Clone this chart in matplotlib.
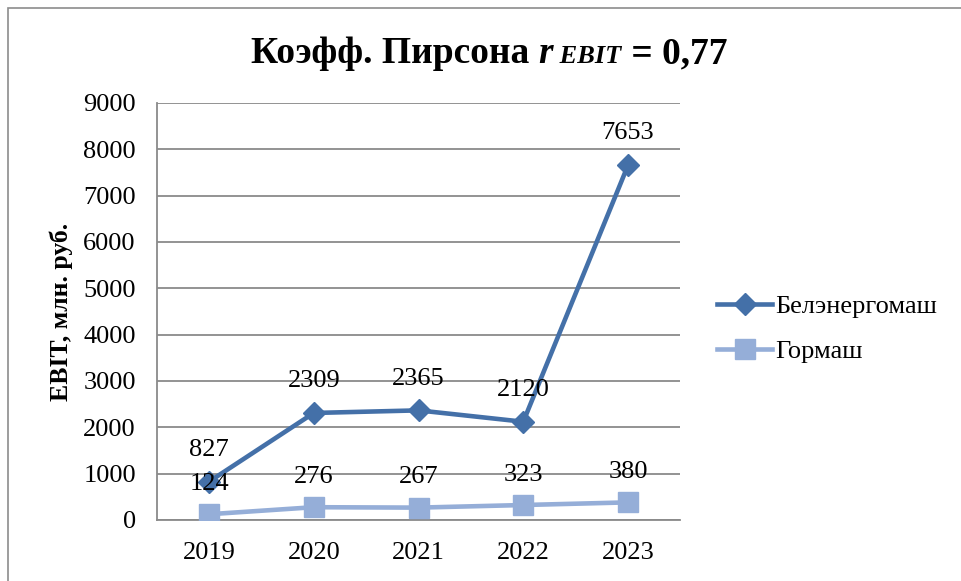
import matplotlib.pyplot as plt
from matplotlib.patches import Rectangle

years = ['2019', '2020', '2021', '2022', '2023']
belenergomash = [827, 2309, 2365, 2120, 7653]
gormash = [124, 276, 267, 323, 380]

plt.rcParams['font.family'] = ['Liberation Serif', 'DejaVu Serif']

fig = plt.figure(figsize=(9.61, 5.81), dpi=100)
ax = fig.add_axes([0.163, 0.105, 0.545, 0.718])

# outer chart frame
fig.patches.append(Rectangle((8 / 961, -0.1), 1.2, (581 - 8) / 581 + 0.1,
                             transform=fig.transFigure, fill=False,
                             edgecolor='#8c8c8c', linewidth=1.2))

x = list(range(len(years)))
c1 = '#4470a8'
c2 = '#95aed8'
ax.plot(x, belenergomash, color=c1, lw=3.3, marker='D', ms=11, label='Белэнергомаш', zorder=3)
ax.plot(x, gormash, color=c2, lw=3.3, marker='s', ms=14, label='Гормаш', zorder=3)

for xi, v in zip(x, belenergomash):
    ax.annotate(str(v), (xi, v), xytext=(0, 15), textcoords='offset points',
                ha='center', va='bottom', fontsize=19)
for xi, v in zip(x, gormash):
    ax.annotate(str(v), (xi, v), xytext=(0, 14), textcoords='offset points',
                ha='center', va='bottom', fontsize=19)

ax.set_xlim(-0.5, len(years) - 0.5)
ax.set_ylim(0, 9000)
ax.set_yticks(range(0, 9001, 1000))
ax.set_xticks(x)
ax.set_xticklabels(years)
ax.tick_params(axis='both', labelsize=19, length=0)
ax.tick_params(axis='y', pad=15)
ax.tick_params(axis='x', pad=16)
ax.grid(axis='y', color='#8a8a8a', lw=1.3)
ax.set_axisbelow(True)
for s in ['top', 'right']:
    ax.spines[s].set_visible(False)
for s in ['left', 'bottom']:
    ax.spines[s].set_color('#8a8a8a')
    ax.spines[s].set_linewidth(1.3)

fig.text(61 / 961, 1 - 312 / 581, 'EBIT, млн. руб.', fontsize=18.5, fontweight='bold',
         rotation=90, ha='center', va='center')

ax.legend(loc='center left', bbox_to_anchor=(717 / 961, 1 - 329 / 581),
          bbox_transform=fig.transFigure, frameon=False, borderpad=0, borderaxespad=0,
          fontsize=19, handlelength=2.1, handletextpad=0.1, labelspacing=0.8)

# title built from pieces with different styles
pieces = [('Коэфф. Пирсона ', 'normal', 27),
          ('r', 'italic', 27),
          (' EBIT', 'italic', 19),
          (' = 0,77', 'normal', 27)]
texts = [fig.text(0, 0, s, fontsize=fs, fontweight='bold', style=st, va='baseline')
         for s, st, fs in pieces]
fig.canvas.draw()
r = fig.canvas.get_renderer()
widths = [t.get_window_extent(r).width for t in texts]
total = sum(widths)
xpos = 489 - total / 2
for t, w in zip(texts, widths):
    t.set_position((xpos / 961, 1 - 63 / 581))
    xpos += w

fig.savefig('out.png', dpi=100)
